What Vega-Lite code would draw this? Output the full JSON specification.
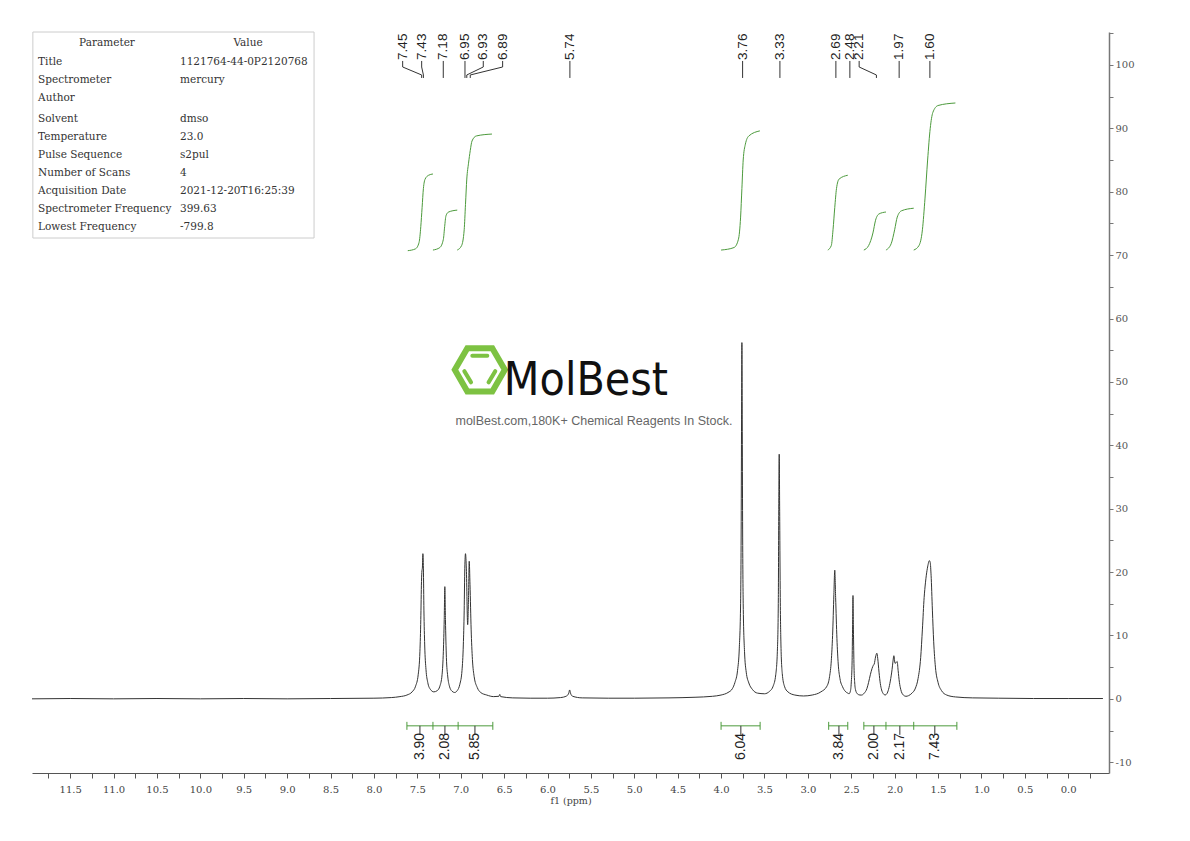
{
  "$schema": "https://vega.github.io/schema/vega-lite/v6.json",
  "width": 1077,
  "height": 741,
  "autosize": {"type": "none"},
  "padding": {"left": 32, "top": 32, "right": 81, "bottom": 68},
  "background": "white",
  "config": {"view": {"stroke": null}},
  "datasets": {
    "spec": [
      {"ppm": 11.94, "v": 0}, {"ppm": 11.5, "v": 0.05}, {"ppm": 11.0, "v": 0}, {"ppm": 10.5, "v": 0.05}, {"ppm": 10.0, "v": 0},
      {"ppm": 9.5, "v": 0.05}, {"ppm": 9.0, "v": 0}, {"ppm": 8.5, "v": 0.05}, {"ppm": 8.0, "v": 0.1}, {"ppm": 7.8, "v": 0.2},
      {"ppm": 7.7, "v": 0.35}, {"ppm": 7.62, "v": 0.6}, {"ppm": 7.56, "v": 1.1}, {"ppm": 7.52, "v": 2.0}, {"ppm": 7.49, "v": 3.8},
      {"ppm": 7.47, "v": 7.5}, {"ppm": 7.46, "v": 12.5}, {"ppm": 7.452, "v": 18.5}, {"ppm": 7.447, "v": 20.2}, {"ppm": 7.442, "v": 20.6},
      {"ppm": 7.436, "v": 22.9}, {"ppm": 7.43, "v": 20.5}, {"ppm": 7.424, "v": 14}, {"ppm": 7.415, "v": 8.5}, {"ppm": 7.40, "v": 4.6},
      {"ppm": 7.38, "v": 2.6}, {"ppm": 7.35, "v": 1.5}, {"ppm": 7.31, "v": 1.1}, {"ppm": 7.27, "v": 1.3}, {"ppm": 7.24, "v": 2.0},
      {"ppm": 7.215, "v": 3.8}, {"ppm": 7.20, "v": 7.5}, {"ppm": 7.19, "v": 12.5}, {"ppm": 7.183, "v": 17.7}, {"ppm": 7.176, "v": 12.5},
      {"ppm": 7.165, "v": 6.5}, {"ppm": 7.15, "v": 3.6}, {"ppm": 7.13, "v": 2.0}, {"ppm": 7.10, "v": 1.2}, {"ppm": 7.07, "v": 1.0},
      {"ppm": 7.04, "v": 1.3}, {"ppm": 7.01, "v": 2.3}, {"ppm": 6.985, "v": 4.5}, {"ppm": 6.97, "v": 8.5}, {"ppm": 6.96, "v": 14},
      {"ppm": 6.953, "v": 20.6}, {"ppm": 6.945, "v": 22.9}, {"ppm": 6.935, "v": 20.5}, {"ppm": 6.92, "v": 11.7}, {"ppm": 6.91, "v": 16},
      {"ppm": 6.902, "v": 21.7}, {"ppm": 6.893, "v": 18}, {"ppm": 6.88, "v": 11}, {"ppm": 6.865, "v": 6.2}, {"ppm": 6.845, "v": 3.5},
      {"ppm": 6.81, "v": 1.8}, {"ppm": 6.77, "v": 1.0}, {"ppm": 6.70, "v": 0.6}, {"ppm": 6.62, "v": 0.35}, {"ppm": 6.56, "v": 0.4},
      {"ppm": 6.55, "v": 0.7}, {"ppm": 6.54, "v": 0.35}, {"ppm": 6.40, "v": 0.15}, {"ppm": 6.2, "v": 0.1}, {"ppm": 6.0, "v": 0.1},
      {"ppm": 5.85, "v": 0.2}, {"ppm": 5.78, "v": 0.45}, {"ppm": 5.755, "v": 0.9}, {"ppm": 5.745, "v": 1.4}, {"ppm": 5.735, "v": 0.9},
      {"ppm": 5.71, "v": 0.4}, {"ppm": 5.6, "v": 0.15}, {"ppm": 5.3, "v": 0.1}, {"ppm": 5.0, "v": 0.1}, {"ppm": 4.6, "v": 0.15},
      {"ppm": 4.3, "v": 0.25}, {"ppm": 4.1, "v": 0.4}, {"ppm": 4.0, "v": 0.6}, {"ppm": 3.92, "v": 1.0}, {"ppm": 3.87, "v": 1.6},
      {"ppm": 3.84, "v": 2.6}, {"ppm": 3.81, "v": 4.5}, {"ppm": 3.79, "v": 8.0}, {"ppm": 3.775, "v": 15}, {"ppm": 3.768, "v": 28},
      {"ppm": 3.764, "v": 44}, {"ppm": 3.76, "v": 56.2}, {"ppm": 3.756, "v": 44}, {"ppm": 3.752, "v": 28}, {"ppm": 3.745, "v": 15},
      {"ppm": 3.73, "v": 7.5}, {"ppm": 3.71, "v": 4.2}, {"ppm": 3.68, "v": 2.5}, {"ppm": 3.64, "v": 1.5}, {"ppm": 3.58, "v": 0.9},
      {"ppm": 3.50, "v": 0.8}, {"ppm": 3.44, "v": 1.2}, {"ppm": 3.40, "v": 2.0}, {"ppm": 3.37, "v": 3.8}, {"ppm": 3.35, "v": 8},
      {"ppm": 3.34, "v": 16}, {"ppm": 3.336, "v": 28}, {"ppm": 3.33, "v": 38.6}, {"ppm": 3.324, "v": 28}, {"ppm": 3.318, "v": 16},
      {"ppm": 3.31, "v": 8.5}, {"ppm": 3.295, "v": 4}, {"ppm": 3.27, "v": 2.0}, {"ppm": 3.23, "v": 1.1}, {"ppm": 3.15, "v": 0.6},
      {"ppm": 3.05, "v": 0.45}, {"ppm": 2.95, "v": 0.6}, {"ppm": 2.85, "v": 1.1}, {"ppm": 2.78, "v": 2.0}, {"ppm": 2.75, "v": 3.5},
      {"ppm": 2.73, "v": 6}, {"ppm": 2.715, "v": 10}, {"ppm": 2.70, "v": 16.5}, {"ppm": 2.69, "v": 20.3}, {"ppm": 2.68, "v": 16},
      {"ppm": 2.665, "v": 9.5}, {"ppm": 2.65, "v": 5.5}, {"ppm": 2.63, "v": 3.2}, {"ppm": 2.60, "v": 1.9}, {"ppm": 2.57, "v": 1.2},
      {"ppm": 2.54, "v": 0.9}, {"ppm": 2.525, "v": 0.8}, {"ppm": 2.51, "v": 1.2}, {"ppm": 2.50, "v": 2.5}, {"ppm": 2.49, "v": 6},
      {"ppm": 2.485, "v": 11}, {"ppm": 2.48, "v": 16.3}, {"ppm": 2.475, "v": 11}, {"ppm": 2.468, "v": 5}, {"ppm": 2.46, "v": 2.5},
      {"ppm": 2.45, "v": 1.4}, {"ppm": 2.43, "v": 0.8}, {"ppm": 2.40, "v": 0.6}, {"ppm": 2.38, "v": 0.6}, {"ppm": 2.35, "v": 0.9},
      {"ppm": 2.32, "v": 1.6}, {"ppm": 2.30, "v": 2.6}, {"ppm": 2.28, "v": 3.8}, {"ppm": 2.26, "v": 4.8}, {"ppm": 2.245, "v": 5.3},
      {"ppm": 2.235, "v": 5.5}, {"ppm": 2.22, "v": 6.6}, {"ppm": 2.205, "v": 7.2}, {"ppm": 2.195, "v": 6.4}, {"ppm": 2.18, "v": 4.2},
      {"ppm": 2.165, "v": 2.4}, {"ppm": 2.15, "v": 1.4}, {"ppm": 2.13, "v": 0.8}, {"ppm": 2.11, "v": 0.6}, {"ppm": 2.09, "v": 0.8},
      {"ppm": 2.07, "v": 1.5}, {"ppm": 2.05, "v": 2.8}, {"ppm": 2.03, "v": 4.6}, {"ppm": 2.02, "v": 5.8}, {"ppm": 2.009, "v": 6.8},
      {"ppm": 1.995, "v": 5.6}, {"ppm": 1.985, "v": 5.7}, {"ppm": 1.971, "v": 5.9}, {"ppm": 1.96, "v": 4.5}, {"ppm": 1.945, "v": 2.6},
      {"ppm": 1.93, "v": 1.5}, {"ppm": 1.90, "v": 0.6}, {"ppm": 1.87, "v": 0.4}, {"ppm": 1.84, "v": 0.5}, {"ppm": 1.80, "v": 0.9},
      {"ppm": 1.76, "v": 1.7}, {"ppm": 1.73, "v": 3.2}, {"ppm": 1.70, "v": 6.5}, {"ppm": 1.68, "v": 11}, {"ppm": 1.66, "v": 16},
      {"ppm": 1.645, "v": 18.3}, {"ppm": 1.635, "v": 19.5}, {"ppm": 1.62, "v": 20.8}, {"ppm": 1.60, "v": 21.8}, {"ppm": 1.59, "v": 21.5},
      {"ppm": 1.58, "v": 19.5}, {"ppm": 1.565, "v": 14}, {"ppm": 1.55, "v": 9}, {"ppm": 1.53, "v": 5}, {"ppm": 1.50, "v": 2.6},
      {"ppm": 1.46, "v": 1.3}, {"ppm": 1.40, "v": 0.6}, {"ppm": 1.30, "v": 0.3}, {"ppm": 1.1, "v": 0.15}, {"ppm": 0.8, "v": 0.1},
      {"ppm": 0.4, "v": 0.05}, {"ppm": 0.0, "v": 0.05}, {"ppm": -0.4, "v": 0.05}
    ],
    "integ": [
      {"g": 1, "ppm": 7.61, "v": 70.7}, {"g": 1, "ppm": 7.52, "v": 71.0}, {"g": 1, "ppm": 7.48, "v": 72}, {"g": 1, "ppm": 7.46, "v": 74.5},
      {"g": 1, "ppm": 7.445, "v": 77.5}, {"g": 1, "ppm": 7.43, "v": 80.5}, {"g": 1, "ppm": 7.41, "v": 82}, {"g": 1, "ppm": 7.37, "v": 82.6}, {"g": 1, "ppm": 7.32, "v": 82.8},
      {"g": 2, "ppm": 7.32, "v": 70.8}, {"g": 2, "ppm": 7.24, "v": 71.2}, {"g": 2, "ppm": 7.20, "v": 72.5}, {"g": 2, "ppm": 7.185, "v": 74.5},
      {"g": 2, "ppm": 7.17, "v": 76.2}, {"g": 2, "ppm": 7.14, "v": 76.8}, {"g": 2, "ppm": 7.04, "v": 77.1},
      {"g": 3, "ppm": 7.04, "v": 70.8}, {"g": 3, "ppm": 6.99, "v": 71.5}, {"g": 3, "ppm": 6.96, "v": 74}, {"g": 3, "ppm": 6.945, "v": 78},
      {"g": 3, "ppm": 6.93, "v": 82}, {"g": 3, "ppm": 6.91, "v": 84.5}, {"g": 3, "ppm": 6.89, "v": 86.5}, {"g": 3, "ppm": 6.87, "v": 88},
      {"g": 3, "ppm": 6.82, "v": 88.8}, {"g": 3, "ppm": 6.64, "v": 89.1},
      {"g": 4, "ppm": 4.00, "v": 70.8}, {"g": 4, "ppm": 3.85, "v": 71.2}, {"g": 4, "ppm": 3.80, "v": 72.5}, {"g": 4, "ppm": 3.775, "v": 76},
      {"g": 4, "ppm": 3.76, "v": 80.5}, {"g": 4, "ppm": 3.745, "v": 85}, {"g": 4, "ppm": 3.72, "v": 87.5}, {"g": 4, "ppm": 3.68, "v": 88.8}, {"g": 4, "ppm": 3.553, "v": 89.6},
      {"g": 5, "ppm": 2.77, "v": 70.8}, {"g": 5, "ppm": 2.73, "v": 71.5}, {"g": 5, "ppm": 2.71, "v": 74}, {"g": 5, "ppm": 2.69, "v": 77.5},
      {"g": 5, "ppm": 2.67, "v": 80.5}, {"g": 5, "ppm": 2.64, "v": 82}, {"g": 5, "ppm": 2.54, "v": 82.6},
      {"g": 6, "ppm": 2.355, "v": 70.8}, {"g": 6, "ppm": 2.30, "v": 71.5}, {"g": 6, "ppm": 2.25, "v": 73.5}, {"g": 6, "ppm": 2.22, "v": 75.5},
      {"g": 6, "ppm": 2.18, "v": 76.5}, {"g": 6, "ppm": 2.10, "v": 76.8},
      {"g": 7, "ppm": 2.10, "v": 70.8}, {"g": 7, "ppm": 2.04, "v": 71.8}, {"g": 7, "ppm": 2.00, "v": 74}, {"g": 7, "ppm": 1.97, "v": 76},
      {"g": 7, "ppm": 1.92, "v": 77}, {"g": 7, "ppm": 1.78, "v": 77.4},
      {"g": 8, "ppm": 1.78, "v": 70.8}, {"g": 8, "ppm": 1.72, "v": 71.5}, {"g": 8, "ppm": 1.68, "v": 74}, {"g": 8, "ppm": 1.65, "v": 79},
      {"g": 8, "ppm": 1.62, "v": 85}, {"g": 8, "ppm": 1.59, "v": 90}, {"g": 8, "ppm": 1.56, "v": 92.5}, {"g": 8, "ppm": 1.50, "v": 93.6}, {"g": 8, "ppm": 1.30, "v": 94.0}
    ],
    "bars": [
      {"ppm": 7.62, "ppm2": 6.63, "v": -4.26},
      {"ppm": 4.00, "ppm2": 3.55, "v": -4.26},
      {"ppm": 2.76, "ppm2": 2.54, "v": -4.26},
      {"ppm": 2.355, "ppm2": 1.283, "v": -4.26}
    ],
    "barticks": [
      {"ppm": 7.62, "v": -3.63, "v2": -4.89}, {"ppm": 7.32, "v": -3.63, "v2": -4.89}, {"ppm": 7.03, "v": -3.63, "v2": -4.89}, {"ppm": 6.63, "v": -3.63, "v2": -4.89},
      {"ppm": 4.00, "v": -3.63, "v2": -4.89}, {"ppm": 3.55, "v": -3.63, "v2": -4.89},
      {"ppm": 2.76, "v": -3.63, "v2": -4.89}, {"ppm": 2.54, "v": -3.63, "v2": -4.89},
      {"ppm": 2.355, "v": -3.63, "v2": -4.89}, {"ppm": 2.10, "v": -3.63, "v2": -4.89}, {"ppm": 1.78, "v": -3.63, "v2": -4.89}, {"ppm": 1.283, "v": -3.63, "v2": -4.89}
    ],
    "intlab": [
      {"t": "3.90", "ppm": 7.470, "v": -4.26, "v2": -5.68},
      {"t": "2.08", "ppm": 7.182, "v": -4.26, "v2": -5.68},
      {"t": "5.85", "ppm": 6.836, "v": -4.26, "v2": -5.68},
      {"t": "6.04", "ppm": 3.772, "v": -4.26, "v2": -5.68},
      {"t": "3.84", "ppm": 2.642, "v": -4.26, "v2": -5.68},
      {"t": "2.00", "ppm": 2.239, "v": -4.26, "v2": -5.68},
      {"t": "2.17", "ppm": 1.940, "v": -4.26, "v2": -5.68},
      {"t": "7.43", "ppm": 1.537, "v": -4.26, "v2": -5.68}
    ],
    "peaklab": [
      {"t": "7.45", "ppm": 7.669, "v": 100.8},
      {"t": "7.43", "ppm": 7.450, "v": 100.8},
      {"t": "7.18", "ppm": 7.201, "v": 100.8},
      {"t": "6.95", "ppm": 6.951, "v": 100.8},
      {"t": "6.93", "ppm": 6.740, "v": 100.8},
      {"t": "6.89", "ppm": 6.517, "v": 100.8},
      {"t": "5.74", "ppm": 5.742, "v": 100.8},
      {"t": "3.76", "ppm": 3.752, "v": 100.8},
      {"t": "3.33", "ppm": 3.322, "v": 100.8},
      {"t": "2.69", "ppm": 2.677, "v": 100.8},
      {"t": "2.48", "ppm": 2.516, "v": 100.8},
      {"t": "2.21", "ppm": 2.409, "v": 100.8},
      {"t": "1.97", "ppm": 1.948, "v": 100.8},
      {"t": "1.60", "ppm": 1.594, "v": 100.8}
    ],
    "lead": [
      {"ppm": 7.669, "ppm2": 7.669, "v": 100.63, "v2": 99.68}, {"ppm": 7.669, "ppm2": 7.45, "v": 99.68, "v2": 98.42}, {"ppm": 7.45, "ppm2": 7.45, "v": 98.42, "v2": 97.95},
      {"ppm": 7.45, "ppm2": 7.45, "v": 100.63, "v2": 99.68}, {"ppm": 7.45, "ppm2": 7.43, "v": 99.68, "v2": 98.42}, {"ppm": 7.43, "ppm2": 7.43, "v": 98.42, "v2": 97.95},
      {"ppm": 7.201, "ppm2": 7.201, "v": 100.63, "v2": 97.95},
      {"ppm": 6.951, "ppm2": 6.951, "v": 100.63, "v2": 97.95},
      {"ppm": 6.74, "ppm2": 6.74, "v": 100.63, "v2": 99.68}, {"ppm": 6.74, "ppm2": 6.93, "v": 99.68, "v2": 98.42}, {"ppm": 6.93, "ppm2": 6.93, "v": 98.42, "v2": 97.95},
      {"ppm": 6.517, "ppm2": 6.517, "v": 100.63, "v2": 99.68}, {"ppm": 6.517, "ppm2": 6.89, "v": 99.68, "v2": 98.42}, {"ppm": 6.89, "ppm2": 6.89, "v": 98.42, "v2": 97.95},
      {"ppm": 5.742, "ppm2": 5.742, "v": 100.63, "v2": 97.95},
      {"ppm": 3.752, "ppm2": 3.752, "v": 100.63, "v2": 97.95},
      {"ppm": 3.322, "ppm2": 3.322, "v": 100.63, "v2": 97.95},
      {"ppm": 2.677, "ppm2": 2.677, "v": 100.63, "v2": 97.95},
      {"ppm": 2.516, "ppm2": 2.516, "v": 100.63, "v2": 97.95},
      {"ppm": 2.409, "ppm2": 2.409, "v": 100.63, "v2": 99.68}, {"ppm": 2.409, "ppm2": 2.21, "v": 99.68, "v2": 98.42}, {"ppm": 2.21, "ppm2": 2.21, "v": 98.42, "v2": 97.95},
      {"ppm": 1.948, "ppm2": 1.948, "v": 100.63, "v2": 97.95},
      {"ppm": 1.594, "ppm2": 1.594, "v": 100.63, "v2": 97.95}
    ],
    "box": [{"ppm": 11.93, "ppm2": 8.69, "v": 105.2, "v2": 72.7}],
    "thead": [
      {"t": "Parameter", "ppm": 11.076, "v": 103.47},
      {"t": "Value", "ppm": 9.451, "v": 103.47}
    ],
    "tbody": [
      {"t": "Title", "ppm": 11.87, "v": 100.47}, {"t": "1121764-44-0P2120768", "ppm": 10.235, "v": 100.47},
      {"t": "Spectrometer", "ppm": 11.87, "v": 97.63}, {"t": "mercury", "ppm": 10.235, "v": 97.63},
      {"t": "Author", "ppm": 11.87, "v": 94.79},
      {"t": "Solvent", "ppm": 11.87, "v": 91.48}, {"t": "dmso", "ppm": 10.235, "v": 91.48},
      {"t": "Temperature", "ppm": 11.87, "v": 88.64}, {"t": "23.0", "ppm": 10.235, "v": 88.64},
      {"t": "Pulse Sequence", "ppm": 11.87, "v": 85.80}, {"t": "s2pul", "ppm": 10.235, "v": 85.80},
      {"t": "Number of Scans", "ppm": 11.87, "v": 82.97}, {"t": "4", "ppm": 10.235, "v": 82.97},
      {"t": "Acquisition Date", "ppm": 11.87, "v": 80.13}, {"t": "2021-12-20T16:25:39", "ppm": 10.235, "v": 80.13},
      {"t": "Spectrometer Frequency", "ppm": 11.87, "v": 77.29}, {"t": "399.63", "ppm": 10.235, "v": 77.29},
      {"t": "Lowest Frequency", "ppm": 11.87, "v": 74.45}, {"t": "-799.8", "ppm": 10.235, "v": 74.45}
    ],
    "logo": [{"ppm": 6.78, "v": 51.9}],
    "brand": [{"t": "MolBest", "ppm": 5.557, "v": 47.9}],
    "slogan": [{"t": "molBest.com,180K+ Chemical Reagents In Stock.", "ppm": 5.465, "v": 43.85}]
  },
  "encoding": {
    "x": {
      "field": "ppm", "type": "quantitative",
      "scale": {"domain": [-0.47, 11.94], "reverse": true, "nice": false, "zero": false},
      "axis": {
        "title": "f1 (ppm)",
        "values": [-0.25, 0, 0.25, 0.5, 0.75, 1, 1.25, 1.5, 1.75, 2, 2.25, 2.5, 2.75, 3, 3.25, 3.5, 3.75, 4, 4.25, 4.5, 4.75, 5, 5.25, 5.5, 5.75, 6, 6.25, 6.5, 6.75, 7, 7.25, 7.5, 7.75, 8, 8.25, 8.5, 8.75, 9, 9.25, 9.5, 9.75, 10, 10.25, 10.5, 10.75, 11, 11.25, 11.5, 11.75],
        "labelExpr": "round(datum.value*4)%2==0 ? format(datum.value,'.1f') : ''",
        "grid": false, "labelFlush": false, "labelOverlap": false, "labelBound": false,
        "domainColor": "#555", "tickColor": "#555", "tickSize": 5,
        "labelFont": "DejaVu Serif", "labelFontSize": 10, "labelColor": "#444", "labelPadding": 6,
        "titleFont": "DejaVu Serif", "titleFontSize": 9.5, "titleFontWeight": "normal", "titleColor": "#444", "titlePadding": 1
      }
    },
    "y": {
      "field": "v", "type": "quantitative",
      "scale": {"domain": [-11.7, 105.2], "nice": false, "zero": false},
      "axis": {
        "orient": "right", "title": null,
        "values": [-10, -5, 0, 5, 10, 15, 20, 25, 30, 35, 40, 45, 50, 55, 60, 65, 70, 75, 80, 85, 90, 95, 100, 105],
        "labelExpr": "datum.value % 10 == 0 ? datum.value : ''",
        "grid": false, "labelFlush": false, "labelOverlap": false, "labelBound": false,
        "domainColor": "#777", "domainWidth": 1.5, "tickColor": "#777", "tickSize": 4,
        "labelFont": "DejaVu Serif", "labelFontSize": 10, "labelColor": "#555", "labelPadding": 2
      }
    }
  },
  "layer": [
    {"data": {"name": "box"}, "mark": {"type": "rect", "fill": null, "stroke": "#cccccc", "strokeWidth": 1},
     "encoding": {"x2": {"field": "ppm2"}, "y2": {"field": "v2"}}},
    {"data": {"name": "thead"}, "mark": {"type": "text", "align": "center", "baseline": "middle", "font": "DejaVu Serif", "fontSize": 10.5, "color": "#333"},
     "encoding": {"text": {"field": "t"}}},
    {"data": {"name": "tbody"}, "mark": {"type": "text", "align": "left", "baseline": "middle", "font": "DejaVu Serif", "fontSize": 10.5, "color": "#333"},
     "encoding": {"text": {"field": "t"}}},
    {"data": {"name": "integ"}, "mark": {"type": "line", "color": "#4c9a3c", "strokeWidth": 1, "interpolate": "monotone"},
     "encoding": {"detail": {"field": "g"}}},
    {"data": {"name": "spec"}, "mark": {"type": "line", "color": "#333333", "strokeWidth": 1, "interpolate": "monotone"}},
    {"data": {"name": "bars"}, "mark": {"type": "rule", "color": "#4c9a3c", "strokeWidth": 1},
     "encoding": {"x2": {"field": "ppm2"}}},
    {"data": {"name": "barticks"}, "mark": {"type": "rule", "color": "#4c9a3c", "strokeWidth": 1},
     "encoding": {"y2": {"field": "v2"}}},
    {"data": {"name": "intlab"}, "mark": {"type": "rule", "color": "#333", "strokeWidth": 1},
     "encoding": {"y2": {"field": "v2"}}},
    {"data": {"name": "intlab"}, "mark": {"type": "text", "angle": -90, "align": "right", "baseline": "middle", "font": "Liberation Sans", "fontSize": 14, "color": "#222", "yOffset": 7},
     "encoding": {"text": {"field": "t"}}},
    {"data": {"name": "peaklab"}, "mark": {"type": "text", "angle": -90, "align": "left", "baseline": "middle", "font": "Liberation Sans", "fontSize": 13.5, "color": "#222"},
     "encoding": {"text": {"field": "t"}}},
    {"data": {"name": "lead"}, "mark": {"type": "rule", "color": "#333", "strokeWidth": 1},
     "encoding": {"x2": {"field": "ppm2"}, "y2": {"field": "v2"}}},
    {"data": {"name": "logo"}, "mark": {"type": "point", "filled": false, "stroke": "#7dc242", "strokeWidth": 6, "opacity": 1, "size": 2500,
      "shape": "M -1 0 L -0.5 -0.866 L 0.5 -0.866 L 1 0 L 0.5 0.866 L -0.5 0.866 Z"}},
    {"data": {"name": "logo"}, "mark": {"type": "point", "filled": false, "stroke": "#7dc242", "strokeWidth": 4, "strokeCap": "round", "opacity": 1, "size": 2500,
      "shape": "M -0.3 -0.56 L 0.3 -0.56 M -0.62 0.05 L -0.35 0.5 M 0.62 0.05 L 0.35 0.5"}},
    {"data": {"name": "brand"}, "mark": {"type": "text", "align": "center", "baseline": "alphabetic", "font": "'DejaVu Sans Condensed', 'Liberation Sans', sans-serif", "fontSize": 46, "color": "#111"},
     "encoding": {"text": {"field": "t"}}},
    {"data": {"name": "slogan"}, "mark": {"type": "text", "align": "center", "baseline": "middle", "font": "Liberation Sans", "fontSize": 12.5, "color": "#666"},
     "encoding": {"text": {"field": "t"}}}
  ]
}
